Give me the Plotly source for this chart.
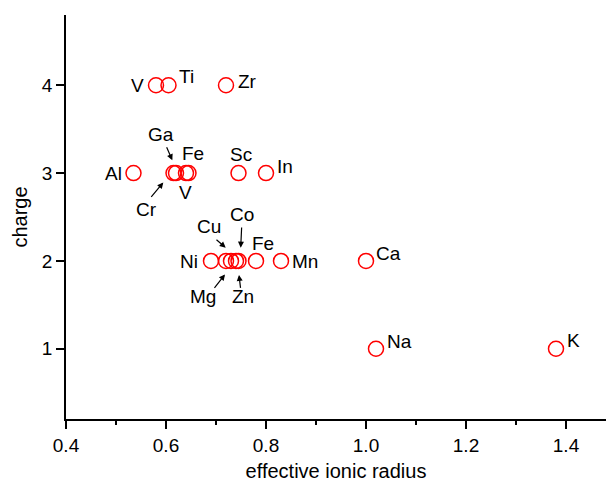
import plotly.graph_objects as go

# ---- data ----
ions = ["V", "Ti", "Zr", "Al", "Cr", "Ga", "V", "Fe", "Sc", "In",
        "Ni", "Mg", "Cu", "Zn", "Co", "Fe", "Mn", "Ca", "Na", "K"]
radius = [0.58, 0.605, 0.72, 0.535, 0.615, 0.62, 0.64, 0.645, 0.745, 0.80,
          0.69, 0.72, 0.73, 0.74, 0.745, 0.78, 0.83, 1.00, 1.02, 1.38]
charge = [4, 4, 4, 3, 3, 3, 3, 3, 3, 3,
          2, 2, 2, 2, 2, 2, 2, 2, 1, 1]

# label offsets in pixels (dx right, dy up) relative to each point
label_dx = [-19, 17.5, 21, -20.5, -27, -15, -1, 4.5, 2, 19.3,
            -22, -22.7, -22, 6.5, 3.5, 7.3, 24, 22.7, 23.5, 17]
label_dy = [0, 8.5, 3.5, 0, -36, 39, -19.5, 19.5, 19, 7,
            -0.5, -35.5, 34.5, -35.5, 46, 17.5, -0.5, 7.5, 7.5, 8.5]

# arrows: index -> (head dx, head dy(up), tail ax, tail ay(down))
arrows = {
    4: (-10.2, -9.4, -13.3, 16),    # Cr
    5: (-3.7, 12.9, -6.3, -14.4),   # Ga
    11: (-1, -13.5, -11.7, 15),     # Mg
    12: (-5.3, 13.2, -10.7, -9.3),  # Cu
    13: (3, -14.1, 1.7, 14.4),      # Zn
    14: (2.2, 13.2, 1, -21.7),      # Co
}

FONT = "Liberation Sans, Arial, sans-serif"

fig = go.Figure()
fig.add_trace(go.Scatter(
    x=radius, y=charge, mode="markers",
    marker=dict(symbol="circle-open", size=15, color="#ff0000",
                line=dict(width=1.5, color="#ff0000")),
    showlegend=False, hoverinfo="skip"))

annotations = []
for i, name in enumerate(ions):
    annotations.append(dict(
        x=radius[i], y=charge[i], xref="x", yref="y", text=name,
        showarrow=False, xshift=label_dx[i], yshift=label_dy[i],
        font=dict(family=FONT, size=19, color="black"),
        xanchor="center", yanchor="middle"))
for i, (hx, hy, ax, ay) in arrows.items():
    annotations.append(dict(
        x=radius[i], y=charge[i], xref="x", yref="y", text="",
        showarrow=True, arrowhead=2, arrowsize=1, arrowwidth=1.2,
        arrowcolor="black", ax=ax, ay=ay, xshift=hx, yshift=hy,
        standoff=0, startstandoff=0))

fig.update_layout(
    width=606, height=482,
    margin=dict(l=66, r=0, t=15, b=59),
    paper_bgcolor="white", plot_bgcolor="white",
    font=dict(family=FONT, size=19, color="black"),
    annotations=annotations,
    xaxis=dict(
        range=[0.4, 1.48], tickvals=[0.4, 0.6, 0.8, 1.0, 1.2, 1.4],
        ticktext=["0.4", "0.6", "0.8", "1.0", "1.2", "1.4"],
        showgrid=False, zeroline=False, showline=True, linecolor="black",
        linewidth=1.5, ticks="outside", ticklen=8, tickwidth=1.5,
        tickcolor="black",
        minor=dict(tickvals=[0.5, 0.7, 0.9, 1.1, 1.3], ticks="outside",
                   ticklen=4, tickwidth=1.5, tickcolor="black"),
        title=dict(text="effective ionic radius", standoff=12,
                   font=dict(size=20)),
        tickfont=dict(size=19)),
    yaxis=dict(
        range=[0.2, 4.8], tickvals=[1, 2, 3, 4],
        showgrid=False, zeroline=False, showline=True, linecolor="black",
        linewidth=1.5, ticks="outside", ticklen=8, tickwidth=1.5,
        tickcolor="black",
        title=dict(text="charge", standoff=9, font=dict(size=20)),
        tickfont=dict(size=19)),
)

fig.write_html("out.html",
               config={"displayModeBar": False},
               post_script="document.body.style.margin='0px';"
                           "document.body.style.overflow='hidden';")
